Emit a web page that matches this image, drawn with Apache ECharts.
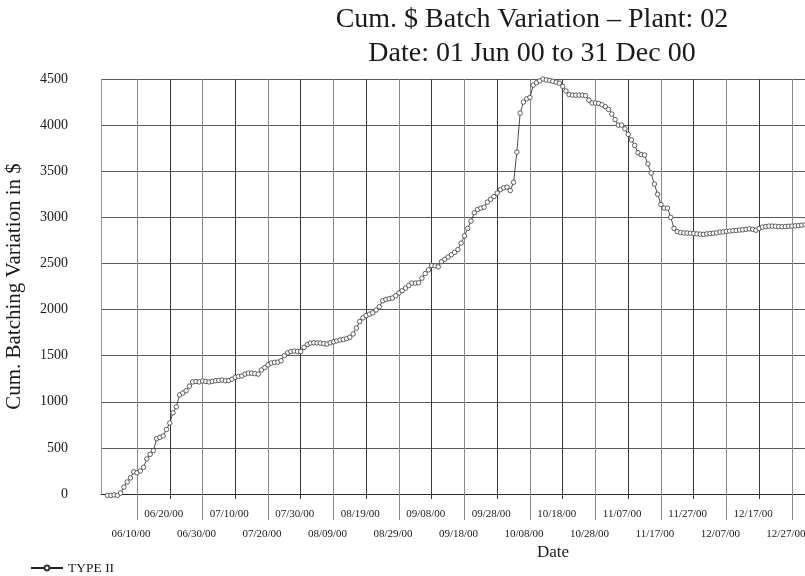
<!DOCTYPE html>
<html>
<head>
<meta charset="utf-8">
<title>Cum. $ Batch Variation - Plant: 02</title>
<script src="https://cdn.jsdelivr.net/npm/echarts@6/dist/echarts.min.js"></script>
<style>
  html, body { margin: 0; padding: 0; background: #fff; }
  #chart { width: 805px; height: 576px; }
</style>
</head>
<body>
<div id="chart"></div>
<script>
// daily cumulative batching variation, year 2000
var dates = [
    '06/01','06/02','06/03','06/04','06/05','06/06','06/07','06/08','06/09','06/10',
    '06/11','06/12','06/13','06/14','06/15','06/16','06/17','06/18','06/19','06/20',
    '06/21','06/22','06/23','06/24','06/25','06/26','06/27','06/28','06/29','06/30',
    '07/01','07/02','07/03','07/04','07/05','07/06','07/07','07/08','07/09','07/10',
    '07/11','07/12','07/13','07/14','07/15','07/16','07/17','07/18','07/19','07/20',
    '07/21','07/22','07/23','07/24','07/25','07/26','07/27','07/28','07/29','07/30','07/31',
    '08/01','08/02','08/03','08/04','08/05','08/06','08/07','08/08','08/09','08/10',
    '08/11','08/12','08/13','08/14','08/15','08/16','08/17','08/18','08/19','08/20',
    '08/21','08/22','08/23','08/24','08/25','08/26','08/27','08/28','08/29','08/30','08/31',
    '09/01','09/02','09/03','09/04','09/05','09/06','09/07','09/08','09/09','09/10',
    '09/11','09/12','09/13','09/14','09/15','09/16','09/17','09/18','09/19','09/20',
    '09/21','09/22','09/23','09/24','09/25','09/26','09/27','09/28','09/29','09/30',
    '10/01','10/02','10/03','10/04','10/05','10/06','10/07','10/08','10/09','10/10',
    '10/11','10/12','10/13','10/14','10/15','10/16','10/17','10/18','10/19','10/20',
    '10/21','10/22','10/23','10/24','10/25','10/26','10/27','10/28','10/29','10/30','10/31',
    '11/01','11/02','11/03','11/04','11/05','11/06','11/07','11/08','11/09','11/10',
    '11/11','11/12','11/13','11/14','11/15','11/16','11/17','11/18','11/19','11/20',
    '11/21','11/22','11/23','11/24','11/25','11/26','11/27','11/28','11/29','11/30',
    '12/01','12/02','12/03','12/04','12/05','12/06','12/07','12/08','12/09','12/10',
    '12/11','12/12','12/13','12/14','12/15','12/16','12/17','12/18','12/19','12/20',
    '12/21','12/22','12/23','12/24','12/25','12/26','12/27','12/28','12/29','12/30','12/31'
];
var values = [
    -15, -15, -10, -15, 10, 75, 130, 175, 240, 230,
    250, 290, 380, 430, 470, 600, 615, 630, 700, 770,
    880, 945, 1075, 1095, 1120, 1170, 1215, 1220, 1215, 1225,
    1220, 1215, 1222, 1228, 1232, 1235, 1228, 1230, 1245, 1265,
    1275, 1280, 1300, 1310, 1310, 1305, 1300, 1345, 1370, 1400,
    1420, 1428, 1430, 1445, 1500, 1530, 1545, 1550, 1545, 1545, 1590,
    1620, 1637, 1640, 1638, 1637, 1630, 1626, 1640, 1650, 1660,
    1670, 1675, 1685, 1700, 1735, 1800, 1870, 1910, 1935, 1950,
    1965, 1995, 2030, 2095, 2110, 2118, 2125, 2150, 2180, 2205, 2233,
    2260, 2287, 2287, 2290, 2340, 2390, 2430, 2478, 2475, 2462,
    2520, 2545, 2570, 2595, 2620, 2650, 2720, 2800, 2880, 2960,
    3050, 3085, 3100, 3110, 3165, 3195, 3225, 3263, 3300, 3320,
    3328, 3290, 3380, 3707, 4130, 4250, 4285, 4300, 4434, 4460,
    4480, 4500, 4490, 4485, 4475, 4466, 4455, 4420, 4370, 4330,
    4325, 4325, 4325, 4325, 4320, 4270, 4240, 4240, 4235, 4220, 4200,
    4170, 4120, 4060, 4000, 4000, 3960, 3900, 3840, 3780, 3700,
    3680, 3675, 3580, 3480, 3360, 3250, 3140, 3100, 3100, 3000,
    2880, 2845, 2835, 2830, 2830, 2828, 2825, 2820, 2818, 2815,
    2820, 2825, 2828, 2832, 2840, 2842, 2848, 2852, 2855, 2858,
    2862, 2865, 2870, 2875, 2870, 2860, 2880, 2894, 2900, 2905,
    2905, 2903, 2900, 2898, 2900, 2903, 2905, 2908, 2910, 2915, 2918
];
// date labels, split over the two label rows
var upperTicks = ['06/20/00', '07/10/00', '07/30/00', '08/19/00', '09/08/00',
    '09/28/00', '10/18/00', '11/07/00', '11/27/00', '12/17/00'];
var lowerTicks = ['06/10/00', '06/30/00', '07/20/00', '08/09/00', '08/29/00',
    '09/18/00', '10/08/00', '10/28/00', '11/17/00', '12/07/00', '12/27/00'];
var axisStart = '05/30';
var axisEnd = '12/31';

// days counted from 06/01/00
function dayOf(s) {
    var p = s.split('/');
    return (Date.UTC(2000, +p[0] - 1, +p[1]) - Date.UTC(2000, 5, 1)) / 86400000;
}

var labelOf = {};
upperTicks.concat(lowerTicks).forEach(function (t) { labelOf[dayOf(t)] = t; });

var serif = "'Liberation Serif', 'Times New Roman', serif";
var ink = '#1a1a1a';

var chart = echarts.init(document.getElementById('chart'));

function dateAxis(ticks, tickLen, margin, lineColor, extra) {
    var days = ticks.map(dayOf);
    var axis = {
        type: 'value',
        position: 'bottom',
        min: dayOf(axisStart),
        max: dayOf(axisEnd),
        axisLine: { show: false },
        axisTick: {
            show: true,
            customValues: days,
            length: tickLen,
            lineStyle: { color: lineColor, width: 1 }
        },
        axisLabel: {
            customValues: days,
            margin: margin,
            padding: [0, 12, 0, 0],
            fontFamily: serif,
            fontSize: 11,
            color: ink,
            formatter: function (v) { return labelOf[v] || ''; }
        },
        splitLine: {
            show: true,
            lineStyle: { color: lineColor, width: 1 }
        }
    };
    for (var k in extra) axis[k] = extra[k];
    return axis;
}

var option = {
    animation: false,
    backgroundColor: '#fff',
    title: {
        text: 'Cum. $ Batch Variation \u2013 Plant: 02\nDate: 01 Jun 00 to 31 Dec 00',
        left: 532,
        top: 3,
        padding: 0,
        textAlign: 'center',
        textStyle: {
            fontFamily: serif,
            fontSize: 28,
            fontWeight: 'normal',
            lineHeight: 34,
            color: ink
        }
    },
    legend: {
        left: 30,
        top: 561,
        padding: 0,
        itemWidth: 32,
        itemHeight: 6,
        textStyle: { fontFamily: serif, fontSize: 13.5, color: ink },
        data: ['TYPE II']
    },
    grid: {
        left: 101,
        right: 0,
        top: 79,
        bottom: 82,
        containLabel: false,
        outerBoundsMode: 'none'
    },
    xAxis: [
        dateAxis(upperTicks, 5, 15, '#3a3a3a', {
            axisLine: { show: true, onZero: false, lineStyle: { color: '#2a2a2a', width: 1 } },
            name: 'Date',
            nameLocation: 'middle',
            nameGap: 50,
            nameTextStyle: {
                fontFamily: serif,
                fontSize: 17,
                color: ink,
                padding: [0, 0, 0, 200]
            }
        }),
        dateAxis(lowerTicks, 26, 35, '#8a8a8a', {})
    ],
    yAxis: {
        type: 'value',
        min: 0,
        max: 4500,
        interval: 500,
        name: 'Cum. Batching Variation in $',
        nameLocation: 'middle',
        nameGap: 76,
        nameTextStyle: { fontFamily: serif, fontSize: 21, color: ink },
        axisLine: { show: true, onZero: false, lineStyle: { color: '#9a9a9a' } },
        axisTick: { show: false },
        axisLabel: {
            margin: 33,
            fontFamily: serif,
            fontSize: 14,
            color: ink,
            formatter: function (v) { return String(v); }
        },
        splitLine: { show: true, lineStyle: { color: '#5a5a5a', width: 1 } }
    },
    series: [{
        name: 'TYPE II',
        type: 'line',
        xAxisIndex: 0,
        clip: false,
        color: '#333',
        symbol: 'circle',
        symbolSize: 4.5,
        itemStyle: { color: '#fff', borderColor: '#3a3a3a', borderWidth: 0.8 },
        lineStyle: { color: '#222', width: 0.8 },
        data: dates.map(function (d, i) { return [dayOf(d), values[i]]; })
    }]
};

chart.setOption(option);
</script>
</body>
</html>
